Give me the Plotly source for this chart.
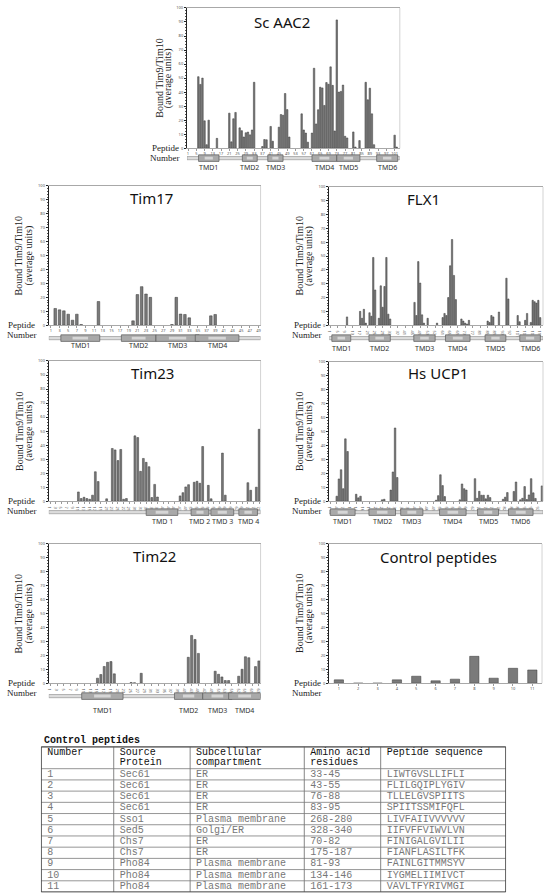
import plotly.graph_objects as go

W, H = 546, 896

# ---------------- data ----------------
aac2_peptides = [6, 7, 8, 9, 10, 11, 15, 21, 22, 23, 24, 26, 27, 28, 29, 30, 31, 32, 33, 37, 38, 39,
                 41, 42, 45, 46, 47, 48, 49, 50, 56, 57, 58, 59, 61, 62, 63, 64, 65, 66, 67, 68,
                 69, 70, 71, 72, 73, 74, 75, 76, 77, 78, 81, 82, 84, 87, 88, 89, 90, 91, 101, 102]
aac2_values = [51, 45.5, 50, 19.5, 2.5, 20, 7, 25, 4.5, 21, 25.5, 14.5, 12.5, 8, 11, 11.5, 9.5, 13, 47, 1.2, 6.2, 6,
               15.5, 5, 15, 24, 23.5, 39, 27.5, 8, 24.5, 13, 10.8, 4.3, 10.8, 57, 17.3, 27.4, 43.5, 43, 30.5, 46.8,
               45.6, 58, 44.8, 12.3, 91.5, 40, 40.5, 45, 8.5, 7.3, 11.6, 0.8, 5.4, 47, 34.5, 42.8, 24.5, 2.5, 9.3, 0.8]
aac2_ticks = list(range(1, 104, 4))
aac2_tmd_labels = ["TMD1", "TMD2", "TMD3", "TMD4", "TMD5", "TMD6"]
aac2_tmd_start = [6.1, 27.3, 39.6, 61, 73, 92.3]
aac2_tmd_end = [16.0, 34.5, 47.0, 73, 84.2, 102.5]

tim17_peptides = [2, 3, 4, 5, 6, 7, 8, 12, 20, 21, 22, 23, 24, 29, 30, 31, 32, 33, 38, 39]
tim17_values = [12, 11, 10.3, 7.9, 3.6, 7.9, 0.5, 17, 3.1, 22, 27.7, 22.4, 20, 0.5, 20, 8, 7.7, 5.3, 6.7, 7.7]
tim17_ticks = list(range(1, 50, 2))
tim17_tmd_labels = ["TMD1", "TMD2", "TMD3", "TMD4"]
tim17_tmd_start = [3.3, 17.3, 25.3, 34.4]
tim17_tmd_end = [12.3, 25.3, 35.3, 44.5]

flx1_peptides = [10, 17, 18, 19, 20, 22, 23, 24, 25, 27, 28, 29, 30, 31, 32, 33, 46, 47, 48, 49, 50, 51, 53,
                 58, 61, 62, 63, 64, 65, 66, 67, 68, 71, 72, 73, 74, 75, 85, 86, 87, 88, 91, 95, 96,
                 101, 102, 105, 106, 108, 109, 110, 111, 112, 113]
flx1_values = [6, 10, 5, 11.5, 1.5, 9, 6.5, 49, 25.5, 5, 28.5, 13, 28, 49, 8, 4.5, 16.5, 7, 46, 30.5, 7.5, 1.5, 5,
               1.5, 5.5, 8.5, 7, 20, 43, 62, 36, 18.5, 4.5, 3, 1.5, 0.8, 3.5, 3, 2, 7, 6, 9.5, 34, 19,
               7, 2.5, 3.5, 8.5, 2, 18, 17, 16, 18, 5.5]
flx1_ticks = list(range(1, 115, 4))
flx1_tmd_labels = ["TMD1", "TMD2", "TMD3", "TMD4", "TMD5", "TMD6"]
flx1_tmd_start = [1.9, 21.7, 45.6, 62.5, 83.6, 102.1]
flx1_tmd_end = [12.0, 33.1, 57.0, 75.6, 94.7, 113.1]

tim23_peptides = [11, 12, 13, 14, 15, 16, 17, 18, 21, 23, 24, 25, 26, 27, 28, 31, 32, 33, 34, 35, 36, 37, 38, 39,
                  47, 48, 49, 50, 52, 53, 54, 55, 57, 58, 62, 63, 71, 72, 74, 75]
tim23_values = [6.6, 1.9, 2.8, 1.9, 1.4, 4.3, 21, 14, 1.7, 37.6, 36.6, 29, 36.9, 1.4, 1.9, 46.6, 45.4, 21.3, 30.5, 27.7, 24.6, 2.6, 12, 3,
                3.8, 6.1, 10.2, 11.8, 13.5, 14.2, 12.8, 39, 11.3, 1.7, 34.3, 4.3, 13.2, 7.8, 10, 51.3]
tim23_ticks = list(range(1, 76, 2))
tim23_tmd_labels = ["TMD 1", "TMD 2", "TMD 3", "TMD 4"]
tim23_tmd_start = [35, 50.9, 57.9, 67.8]
tim23_tmd_end = [46.2, 57.2, 66, 74.4]

ucp1_peptides = [4, 5, 6, 7, 8, 9, 13, 14, 15, 25, 26, 29, 30, 31, 32, 50, 51, 52, 53, 54, 61, 62, 63, 64,
                 68, 69, 70, 71, 72, 73, 74, 75, 81, 82, 83, 86, 87, 89, 90, 91, 92, 93, 94, 95, 96, 99]
ucp1_values = [3.6, 16, 22.6, 9, 44.8, 35.7, 5, 2.4, 3.6, 1, 1.4, 8, 21, 52.6, 17, 0.7, 4, 19, 11.2, 3.3, 1, 12.4, 9, 8,
               16.2, 2.1, 7.1, 4.3, 4.3, 1.7, 4.3, 2.6, 1.4, 2.9, 6.2, 7, 13.8, 1, 2.1, 10.5, 1.2, 4.5, 16.2, 6, 2, 11]
ucp1_ticks = list(range(1, 100, 3))
ucp1_tmd_labels = ["TMD1", "TMD2", "TMD3", "TMD4", "TMD5", "TMD6"]
ucp1_tmd_start = [1.0, 18.9, 33.6, 51.6, 69.2, 83.5]
ucp1_tmd_end = [12.5, 31.2, 43.9, 63.9, 78.9, 94.9]

tim22_peptides = [15, 16, 17, 18, 19, 20, 25, 26, 28, 42, 43, 44, 45, 50, 51, 52, 53, 54, 57, 58, 59, 60, 62, 63]
tim22_values = [3.6, 6.2, 12, 15, 15.5, 6.7, 0.5, 0.3, 7.1, 18.6, 34.3, 31.4, 21.4, 8.6, 6.4, 4.5, 1.9, 1.9, 5, 10, 19, 18.3, 11.9, 16]
tim22_ticks = list(range(1, 64, 2))
tim22_tmd_labels = ["TMD1", "TMD2", "TMD3", "TMD4"]
tim22_tmd_start = [10.3, 37.9, 46.3, 54.0]
tim22_tmd_end = [22.6, 46.3, 55.0, 63.5]

control_peptides = [1, 2, 3, 4, 5, 6, 7, 8, 9, 10, 11]
control_values = [2.4, 0, 0, 2.4, 5, 1.7, 2.9, 19.3, 3.6, 10.7, 9.5]
control_ticks = list(range(1, 12))

table_number = ["1", "2", "3", "4", "5", "6", "7", "8", "9", "10", "11"]
table_source = ["Sec61", "Sec61", "Sec61", "Sec61", "Sso1", "Sed5", "Chs7", "Chs7", "Pho84", "Pho84", "Pho84"]
table_compartment = ["ER", "ER", "ER", "ER", "Plasma membrane", "Golgi/ER", "ER", "ER",
                     "Plasma membrane", "Plasma membrane", "Plasma membrane"]
table_residues = ["33-45", "43-55", "76-88", "83-95", "268-280", "328-340", "70-82", "175-187",
                  "81-93", "134-146", "161-173"]
table_sequence = ["LIWTGVSLLIFLI", "FLILGQIPLYGIV", "TLLELGVSPIITS", "SPIITSSMIFQFL", "LIVFAIIVVVVVV",
                  "IIFVFFVIWVLVN", "FINIGALGVILII", "FIANFLASILTFK", "FAINLGITMMSYV", "IYGMELIIMIVCT",
                  "VAVLTFYRIVMGI"]
table_header_line1 = ["Number", "Source", "Subcellular", "Amino acid", "Peptide sequence"]
table_header_line2 = ["", "Protein", "compartment", "residues", ""]

# ---------------- layout helpers ----------------
def px(x):
    return x / W


def py(y):
    return 1 - y / H


panels = [
    dict(title="Sc AAC2", n=103, pep=aac2_peptides, val=aac2_values, ticks=aac2_ticks,
         tmd=(aac2_tmd_labels, aac2_tmd_start, aac2_tmd_end), box=(186, 400, 5, 146),
         tpos=(282, 19), ytx=(157.5, 167), pnx=164, band=156, lab=165, bw=0.72),
    dict(title="Tim17", n=49, pep=tim17_peptides, val=tim17_values, ticks=tim17_ticks,
         tmd=(tim17_tmd_labels, tim17_tmd_start, tim17_tmd_end), box=(47, 260, 184, 324),
         tpos=(150, 196), ytx=(17, 27), pnx=20, band=337, lab=344, bw=0.6),
    dict(title="FLX1", n=114, pep=flx1_peptides, val=flx1_values, ticks=flx1_ticks,
         tmd=(flx1_tmd_labels, flx1_tmd_start, flx1_tmd_end), box=(329, 544, 185, 324),
         tpos=(424, 197), ytx=(299, 308.5), pnx=307, band=337, lab=347, bw=0.72),
    dict(title="Tim23", n=75, pep=tim23_peptides, val=tim23_values, ticks=tim23_ticks,
         tmd=(tim23_tmd_labels, tim23_tmd_start, tim23_tmd_end), box=(47, 260, 360, 501),
         tpos=(151, 372), ytx=(17, 27), pnx=20, band=512, lab=521, bw=0.65),
    dict(title="Hs UCP1", n=99, pep=ucp1_peptides, val=ucp1_values, ticks=ucp1_ticks,
         tmd=(ucp1_tmd_labels, ucp1_tmd_start, ucp1_tmd_end), box=(329, 544, 361, 501),
         tpos=(438, 372), ytx=(299, 308.5), pnx=307, band=512, lab=521, bw=0.72),
    dict(title="Tim22", n=63, pep=tim22_peptides, val=tim22_values, ticks=tim22_ticks,
         tmd=(tim22_tmd_labels, tim22_tmd_start, tim22_tmd_end), box=(47, 260, 544, 684),
         tpos=(153, 556), ytx=(17, 27), pnx=20, band=697, lab=711, bw=0.62),
    dict(title="Control peptides", n=11, pep=control_peptides, val=control_values, ticks=control_ticks,
         tmd=None, box=(329, 543, 544, 684),
         tpos=(439, 557), ytx=(299, 308.5), pnx=307, band=None, lab=None, bw=0.48),
]

fig = go.Figure()
layout = {}
shapes = []
annotations = []
serif = "Liberation Serif"
sans = "Noto Sans"
mono = "Liberation Mono"

for i, p in enumerate(panels, start=1):
    xa = "x" if i == 1 else f"x{i}"
    ya = "y" if i == 1 else f"y{i}"
    xk = "xaxis" if i == 1 else f"xaxis{i}"
    yk = "yaxis" if i == 1 else f"yaxis{i}"
    x0, x1, y0, y1 = p["box"]
    n = p["n"]
    fig.add_trace(go.Bar(x=p["pep"], y=p["val"], xaxis=xa, yaxis=ya, width=p["bw"],
                         marker=dict(color="#7a7a7a", line=dict(color="#383838", width=0.5)),
                         showlegend=False))
    layout[xk] = dict(domain=[px(x0), px(x1)], range=[0.5, n + 0.5], anchor=ya,
                      tickmode="array", tickvals=p["ticks"], tickfont=dict(size=4, color="#555", family=sans),
                      ticks="outside", ticklen=1.5, tickcolor="#999", showline=True, linecolor="#a8a8a8",
                      linewidth=0.8, mirror=True, showgrid=False, zeroline=False, fixedrange=True)
    layout[yk] = dict(domain=[py(y1), py(y0)], range=[0, 100], anchor=xa, dtick=10, tick0=0,
                      tickfont=dict(size=4, color="#555", family=sans), ticks="outside", ticklen=2,
                      tickcolor="#222", minor=dict(dtick=2, ticks="outside", ticklen=1.2, tickcolor="#555"),
                      showline=True, linecolor="#222", linewidth=1, showgrid=False, zeroline=False,
                      fixedrange=True)
    shapes.append(dict(type="line", xref=f"{xa} domain", yref=f"{ya} domain", x0=1, x1=1, y0=0, y1=1,
                       line=dict(color="#c8c8c8", width=0.8)))
    annotations.append(dict(text=p["title"], x=px(p["tpos"][0]), y=py(p["tpos"][1]), xref="paper", yref="paper",
                            showarrow=False, xanchor="center", yanchor="middle",
                            font=dict(family=sans, size=15, color="#111")))
    yc = (y0 + y1) / 2
    annotations.append(dict(text="Bound Tim9/Tim10", x=px(p["ytx"][0]), y=py(yc), xref="paper", yref="paper",
                            showarrow=False, textangle=-90, xanchor="center", yanchor="middle",
                            font=dict(family=serif, size=10, color="#222")))
    annotations.append(dict(text="(average units)", x=px(p["ytx"][1]), y=py(yc), xref="paper", yref="paper",
                            showarrow=False, textangle=-90, xanchor="center", yanchor="middle",
                            font=dict(family=serif, size=10, color="#222")))
    annotations.append(dict(text="Peptide", x=px(p["pnx"]), y=py(y1), xref="paper", yref="paper",
                            showarrow=False, xanchor="center", yanchor="middle",
                            font=dict(family=serif, size=9, color="#222")))
    annotations.append(dict(text="Number", x=px(p["pnx"]), y=py(y1 + 10), xref="paper", yref="paper",
                            showarrow=False, xanchor="center", yanchor="middle",
                            font=dict(family=serif, size=9, color="#222")))
    if p["tmd"] is not None:
        labels, starts, ends = p["tmd"]
        b = p["band"]
        shapes.append(dict(type="rect", xref=xa, yref="paper", x0=0.5, x1=n + 0.5, y0=py(b + 1.6), y1=py(b - 1.6),
                           fillcolor="#dcdcdc", line=dict(color="#8a8a8a", width=0.6), layer="above"))
        for lab, s, e in zip(labels, starts, ends):
            shapes.append(dict(type="rect", xref=xa, yref="paper", x0=s, x1=e, y0=py(b + 3.3), y1=py(b - 3.3),
                               fillcolor="#a9a9a9", line=dict(color="#5a5a5a", width=0.7), layer="above"))
            shapes.append(dict(type="rect", xref=xa, yref="paper", x0=s + (e - s) * 0.3, x1=e - (e - s) * 0.3,
                               y0=py(b + 1.5), y1=py(b - 1.5),
                               fillcolor="#d6d6d6", line=dict(width=0), layer="above"))
            annotations.append(dict(text=lab, x=(s + e) / 2, y=py(p["lab"]), xref=xa, yref="paper",
                                    showarrow=False, xanchor="center", yanchor="middle",
                                    font=dict(family=sans, size=7, color="#333")))

# ---------------- table (own axis pair, pixel-like units) ----------------
col_widths = [73, 77, 115, 77, 126]
header_h = 22
row_h = (146 - header_h) / len(table_number)
col_starts = [sum(col_widths[:k]) for k in range(len(col_widths))]
table_w = sum(col_widths)
table_h = header_h + row_h * len(table_number)

hx, hy, ht = [], [], []
for k, cs in enumerate(col_starts):
    hx += [cs + 6, cs + 6]
    hy += [6, 16]
    ht += [table_header_line1[k], table_header_line2[k]]
fig.add_trace(go.Scatter(x=hx, y=hy, text=ht, mode="text", textposition="middle right",
                         textfont=dict(family=mono, size=10, color="#111"), xaxis="x8", yaxis="y8",
                         showlegend=False, hoverinfo="skip"))
body_cols = [table_number, table_source, table_compartment, table_residues, table_sequence]
bx, by, bt = [], [], []
for k, col in enumerate(body_cols):
    for r, val in enumerate(col):
        bx.append(col_starts[k] + 6)
        by.append(header_h + row_h * (r + 0.5))
        bt.append(val)
fig.add_trace(go.Scatter(x=bx, y=by, text=bt, mode="text", textposition="middle right",
                         textfont=dict(family=mono, size=10, color="#777"), xaxis="x8", yaxis="y8",
                         showlegend=False, hoverinfo="skip"))
for r in range(len(table_number) + 1):
    yy = header_h + row_h * r
    shapes.append(dict(type="line", xref="x8", yref="y8", x0=0, x1=table_w, y0=yy, y1=yy,
                       line=dict(color="#8a8a8a", width=0.9)))
shapes.append(dict(type="line", xref="x8", yref="y8", x0=0, x1=table_w, y0=0, y1=0,
                   line=dict(color="#555", width=1)))
for cs in col_starts[1:]:
    shapes.append(dict(type="line", xref="x8", yref="y8", x0=cs, x1=cs, y0=0, y1=table_h,
                       line=dict(color="#777", width=0.9)))
shapes.append(dict(type="rect", xref="x8", yref="y8", x0=0, x1=table_w, y0=0, y1=table_h,
                   line=dict(color="#444", width=1)))
layout["xaxis8"] = dict(domain=[px(39), px(39 + table_w)], range=[-0.5, table_w + 0.5], anchor="y8",
                        visible=False, fixedrange=True)
layout["yaxis8"] = dict(domain=[py(748 + table_h + 0.5), py(747.5)], range=[table_h + 0.5, -0.5], anchor="x8",
                        visible=False, fixedrange=True)
annotations.append(dict(text="<b>Control peptides</b>", x=px(40), y=py(742), xref="paper", yref="paper",
                        showarrow=False, xanchor="left", yanchor="middle",
                        font=dict(family=mono, size=10, color="#111")))

fig.update_layout(width=W, height=H, margin=dict(l=0, r=0, t=0, b=0),
                  paper_bgcolor="white", plot_bgcolor="white", bargap=0.2,
                  shapes=shapes, annotations=annotations, showlegend=False, **layout)

fig.write_html("out.html", config={"displayModeBar": False},
               post_script="document.body.style.margin='0px';document.body.style.overflow='hidden';")
